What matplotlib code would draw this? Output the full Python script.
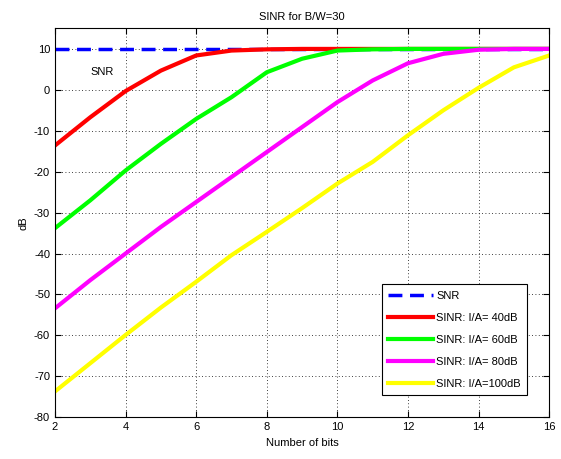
import matplotlib
matplotlib.use("Agg")
import matplotlib.pyplot as plt

bits = [2, 3, 4, 5, 6, 7, 8, 9, 10, 11, 12, 13, 14, 15, 16]
snr = [10] * 15
sinr_40 = [-13.6, -6.7, -0.3, 4.7, 8.4, 9.6, 9.9, 10, 10, 10, 10, 10, 10, 10, 10]
sinr_60 = [-33.8, -27.0, -19.7, -13.2, -7.1, -1.8, 4.3, 7.6, 9.6, 9.9, 10, 10, 10, 10, 10]
sinr_80 = [-53.4, -46.5, -40.0, -33.5, -27.4, -21.3, -15.2, -9.1, -3.0, 2.3, 6.5, 8.8, 9.8, 10, 10]
sinr_100 = [-73.7, -66.8, -59.9, -53.2, -46.9, -40.4, -34.7, -28.9, -22.9, -17.6, -11.1, -5.0, 0.5, 5.5, 8.4]

labels = ["SNR", "SINR: I/A= 40dB", "SINR: I/A= 60dB", "SINR: I/A= 80dB", "SINR: I/A=100dB"]
colors = ["#0000ff", "#ff0000", "#00ff00", "#ff00ff", "#ffff00"]

plt.rcParams['font.family'] = ['Liberation Sans', 'DejaVu Sans']
plt.rcParams['font.size'] = 8
plt.rcParams['axes.unicode_minus'] = False

fig = plt.figure(figsize=(5.61, 4.59), dpi=100)
ax = fig.add_axes([0.098, 0.091, 0.881, 0.847])

ax.plot(bits, snr, color=colors[0], lw=2.5, linestyle=(0, (4, 2.2)), label=labels[0])
for vals, c, lab in zip([sinr_40, sinr_60, sinr_80, sinr_100], colors[1:], labels[1:]):
    ax.plot(bits, vals, color=c, lw=3, label=lab)

ax.set_xlim(2, 16)
ax.set_ylim(-80, 15)
ax.set_xticks(range(2, 17, 2))
ax.set_yticks(range(-80, 11, 10))
ax.grid(True, color='black', linestyle=(0, (1, 3)), linewidth=0.6)
ax.tick_params(direction='in', length=4, width=0.8, top=True, right=True, labelsize=8)
for s in ax.spines.values():
    s.set_linewidth(0.8)

ax.set_title("SINR for B/W=30", fontsize=8, pad=6)
ax.set_xlabel("Number of bits", fontsize=8)
ax.set_ylabel("dB", fontsize=8)
ax.text(3.0, 4.3, "SNR", fontsize=8, ha='left', va='center')

leg = ax.legend(loc='lower right', bbox_to_anchor=(0.967, 0.042), fancybox=False,
                edgecolor='black', framealpha=1, fontsize=8, handlelength=4.0,
                labelspacing=1.08, borderpad=0.6, handletextpad=0.3)
leg.get_frame().set_linewidth(0.8)

fig.savefig("out.png", dpi=100)
